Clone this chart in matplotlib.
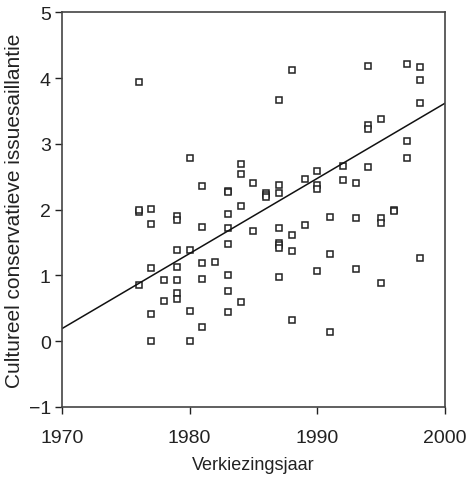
import matplotlib
matplotlib.use("Agg")
import matplotlib.pyplot as plt

plt.rcParams['font.family'] = ['Liberation Sans', 'DejaVu Sans']

years = [1976, 1976, 1976, 1976,
         1977, 1977, 1977, 1977, 1977,
         1978, 1978,
         1979, 1979, 1979, 1979, 1979, 1979, 1979,
         1980, 1980, 1980, 1980,
         1981, 1981, 1981, 1981, 1981,
         1982,
         1983, 1983, 1983, 1983, 1983, 1983, 1983, 1983,
         1984, 1984, 1984, 1984,
         1985, 1985,
         1986, 1986, 1986,
         1987, 1987, 1987, 1987, 1987, 1987, 1987, 1987,
         1988, 1988, 1988, 1988,
         1989, 1989,
         1990, 1990, 1990, 1990,
         1991, 1991, 1991,
         1992, 1992,
         1993, 1993, 1993,
         1994, 1994, 1994, 1994,
         1995, 1995, 1995, 1995,
         1996, 1996,
         1997, 1997, 1997,
         1998, 1998, 1998, 1998]
values = [3.94, 1.97, 0.85, 2.00,
          2.01, 1.78, 1.11, 0.42, 0.00,
          0.93, 0.61,
          1.90, 1.84, 1.38, 1.13, 0.93, 0.73, 0.64,
          2.79, 1.38, 0.46, 0.00,
          2.36, 1.74, 1.19, 0.95, 0.22,
          1.21,
          2.28, 1.94, 1.72, 1.48, 1.01, 0.76, 0.44, 2.27,
          2.69, 2.55, 2.06, 0.59,
          2.41, 1.68,
          2.26, 2.22, 2.19,
          3.67, 2.37, 2.26, 1.72, 1.50, 1.47, 1.42, 0.97,
          4.13, 1.61, 1.37, 0.32,
          2.47, 1.76,
          2.59, 2.37, 2.31, 1.07,
          1.89, 1.33, 0.14,
          2.67, 2.45,
          2.40, 1.88, 1.09,
          4.18, 3.29, 3.23, 2.65,
          3.38, 1.88, 1.80, 0.89,
          2.00, 1.98,
          4.22, 3.04, 2.79,
          4.17, 3.97, 3.62, 1.27]

fit_x = [1970, 2000]
fit_y = [0.19, 3.62]

x_ticks = [1970, 1980, 1990, 2000]
y_ticks = [-1, 0, 1, 2, 3, 4, 5]

fig = plt.figure(figsize=(4.76, 4.81), dpi=100)
ax = fig.add_axes([0.130, 0.152, 0.805, 0.820])

ax.plot(years, values, linestyle='none', marker='s', markersize=4.8,
        markerfacecolor='white', markeredgecolor='#222222', markeredgewidth=1.1)
ax.plot(fit_x, fit_y, color='#111111', linewidth=1.1)

ax.set_xlim(1970, 2000)
ax.set_ylim(-1, 5)
ax.set_xticks(x_ticks)
ax.set_yticks(y_ticks)
ax.set_yticklabels(['\u22121', '0', '1', '2', '3', '4', '5'])
ax.tick_params(direction='out', length=5, width=1, labelsize=14, colors='#222222')
ax.tick_params(axis='x', pad=11)
ax.tick_params(axis='y', pad=3)
for s in ax.spines.values():
    s.set_color('#444444')
    s.set_linewidth(1.2)

ax.set_xlabel('Verkiezingsjaar', fontsize=13, color='#222222')
ax.xaxis.set_label_coords(0.5, -0.125)
ax.set_ylabel('Cultureel conservatieve issuesaillantie', fontsize=15, color='#222222')
ax.yaxis.set_label_coords(-0.098, 0.5)

fig.savefig('out.png', dpi=100)
